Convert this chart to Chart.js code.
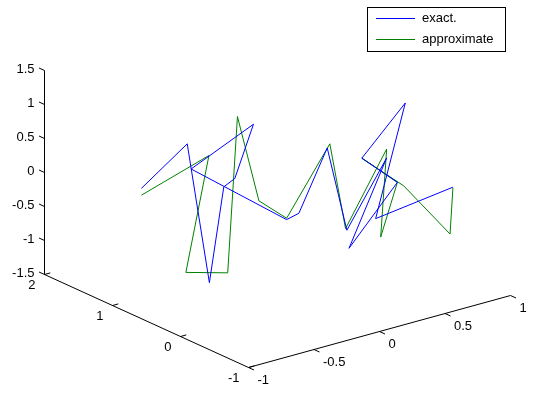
<!DOCTYPE html>
<html>
<head>
<meta charset="utf-8">
<script src="https://cdn.jsdelivr.net/npm/chart.js@4.4.0/dist/chart.umd.min.js"></script>
<style>
  html, body { margin: 0; padding: 0; background: #fff; }
</style>
</head>
<body>
<canvas id="chart" width="537" height="394"></canvas>
<script>
// axis limits and ticks (MATLAB style 3-D box)
const xLim = [-1, 1];
const yLim = [-1, 2];
const zLim = [-1.5, 1.5];
const xTicks = [-1, -0.5, 0, 0.5, 1];
const yTicks = [-1, 0, 1, 2];
const zTicks = [-1.5, -1, -0.5, 0, 0.5, 1, 1.5];

const seriesNames = ['exact.', 'approximate'];

// exact solution, 3-D points
const exactX = [-0.52, -0.17, -0.52, -0.41, -0.17, 0.18, -0.40, -0.19, -0.20, 0.12, 0.27, 0.47, 0.39, 0.50, 0.54, 0.82, 0.23, 0.82];
const exactY = [1.5, 1.5, 0.5, 0.5, 0.8, 1.2, 1.0, 0.0, -0.2, 0.0, 0.0, -0.2, 0.2, -0.3, 0.3, 0.2, -0.5, -0.5];
const exactZ = [-0.26, 0.21, -1.19, 0.16, 0.02, 0.45, 0.19, -0.21, -0.02, 0.68, -0.61, 0.44, -1.03, 0.11, 0.17, 0.88, -0.19, -0.04];

// approximate solution, 3-D points
const approxX = [-0.52, -0.16, -0.44, -0.38, -0.15, -0.09, -0.19, 0.14, 0.26, 0.47, 0.58, 0.50, 0.54, 0.60, 0.85, 0.82];
const approxY = [1.5, 1.2, 1.0, 0.5, 0.8, 0.6, 0.0, 0.0, 0.0, -0.2, 0.1, -0.3, 0.3, -0.2, -0.4, -0.5];
const approxZ = [-0.36, 0.17, -1.31, -1.12, 0.92, -0.26, -0.19, 0.73, -0.58, 0.57, -0.92, 0.11, 0.17, -0.04, -0.79, -0.05];

// view (az -37.5, el 30 stretched to the figure): screen step per data unit
const view = {
    ox: 248.5, oy: 367.5,
    xv: [131, -36],
    yv: [-68, -31],
    zv: [0, -68]
};

function project(x, y, z) {
    const dx = x - xLim[0], dy = y - yLim[0], dz = z - zLim[0];
    return {
        x: view.ox + dx * view.xv[0] + dy * view.yv[0] + dz * view.zv[0],
        y: view.oy + dx * view.xv[1] + dy * view.yv[1] + dz * view.zv[1]
    };
}

function toPoints(xs, ys, zs) {
    return xs.map((x, i) => project(x, ys[i], zs[i]));
}

function fmt(v) {
    return String(v);
}

const box3d = {
    id: 'box3d',
    beforeDatasetsDraw(chart) {
        const ctx = chart.ctx;
        const sx = chart.scales.x, sy = chart.scales.y;
        const px = p => ({ x: sx.getPixelForValue(p.x), y: sy.getPixelForValue(p.y) });
        const P = (x, y, z) => px(project(x, y, z));
        const tick = 6;
        const unit = v => { const l = Math.hypot(v[0], v[1]); return [v[0] / l, v[1] / l]; };
        const xDir = unit(view.xv), yDir = unit(view.yv);

        ctx.save();
        ctx.strokeStyle = '#000';
        ctx.lineWidth = 1;
        ctx.fillStyle = '#000';
        ctx.font = '13px "Liberation Sans", Arial, sans-serif';

        function seg(a, b) {
            ctx.beginPath();
            ctx.moveTo(a.x, a.y);
            ctx.lineTo(b.x, b.y);
            ctx.stroke();
        }

        // x axis (front right), ticks point along -y
        seg(P(xLim[0], yLim[0], zLim[0]), P(xLim[1], yLim[0], zLim[0]));
        ctx.textAlign = 'left';
        ctx.textBaseline = 'middle';
        xTicks.forEach(t => {
            const a = P(t, yLim[0], zLim[0]);
            seg(a, { x: a.x - yDir[0] * tick, y: a.y - yDir[1] * tick });
            ctx.fillText(fmt(t), a.x + 9, a.y + 12.5);
        });

        // y axis (front left), ticks point along +x
        seg(P(xLim[0], yLim[0], zLim[0]), P(xLim[0], yLim[1], zLim[0]));
        ctx.textAlign = 'right';
        yTicks.forEach(t => {
            const a = P(xLim[0], t, zLim[0]);
            seg(a, { x: a.x + xDir[0] * tick, y: a.y + xDir[1] * tick });
            ctx.fillText(fmt(t), a.x - 9, a.y + 10.5);
        });

        // z axis (back left corner), ticks point along +y
        seg(P(xLim[0], yLim[1], zLim[0]), P(xLim[0], yLim[1], zLim[1]));
        zTicks.forEach(t => {
            const a = P(xLim[0], yLim[1], t);
            seg(a, { x: a.x + yDir[0] * tick, y: a.y + yDir[1] * tick });
            ctx.fillText(fmt(t), a.x - 10, a.y - 1);
        });
        ctx.restore();
    },
    afterDraw(chart) {
        // MATLAB-like legend box, top right
        const ctx = chart.ctx;
        const sets = chart.data.datasets;
        ctx.save();
        ctx.fillStyle = '#fff';
        ctx.fillRect(367.5, 7.5, 138, 44);
        ctx.strokeStyle = '#000';
        ctx.lineWidth = 1;
        ctx.strokeRect(367.5, 7.5, 138, 44);
        ctx.font = '13px "Liberation Sans", Arial, sans-serif';
        ctx.textAlign = 'left';
        ctx.textBaseline = 'middle';
        sets.forEach((ds, i) => {
            const y = 18.5 + i * 21;
            ctx.strokeStyle = ds.borderColor;
            ctx.beginPath();
            ctx.moveTo(376, y);
            ctx.lineTo(415, y);
            ctx.stroke();
            ctx.fillStyle = '#000';
            ctx.fillText(ds.label, 422, y);
        });
        ctx.restore();
    }
};

const chart = new Chart(document.getElementById('chart').getContext('2d'), {
    type: 'scatter',
    data: {
        datasets: [{
            label: seriesNames[0],
            data: toPoints(exactX, exactY, exactZ),
            showLine: true,
            borderColor: '#0000ff',
            borderWidth: 1,
            pointRadius: 0,
            tension: 0,
            clip: false
        }, {
            label: seriesNames[1],
            data: toPoints(approxX, approxY, approxZ),
            showLine: true,
            borderColor: '#008000',
            borderWidth: 1,
            pointRadius: 0,
            tension: 0,
            clip: false
        }]
    },
    options: {
        responsive: false,
        animation: false,
        layout: { padding: 0 },
        plugins: {
            legend: { display: false },
            tooltip: { enabled: false }
        },
        scales: {
            x: { type: 'linear', min: 0, max: 537, display: false },
            y: { type: 'linear', min: 0, max: 394, reverse: true, display: false }
        }
    },
    plugins: [box3d]
});
</script>
</body>
</html>
